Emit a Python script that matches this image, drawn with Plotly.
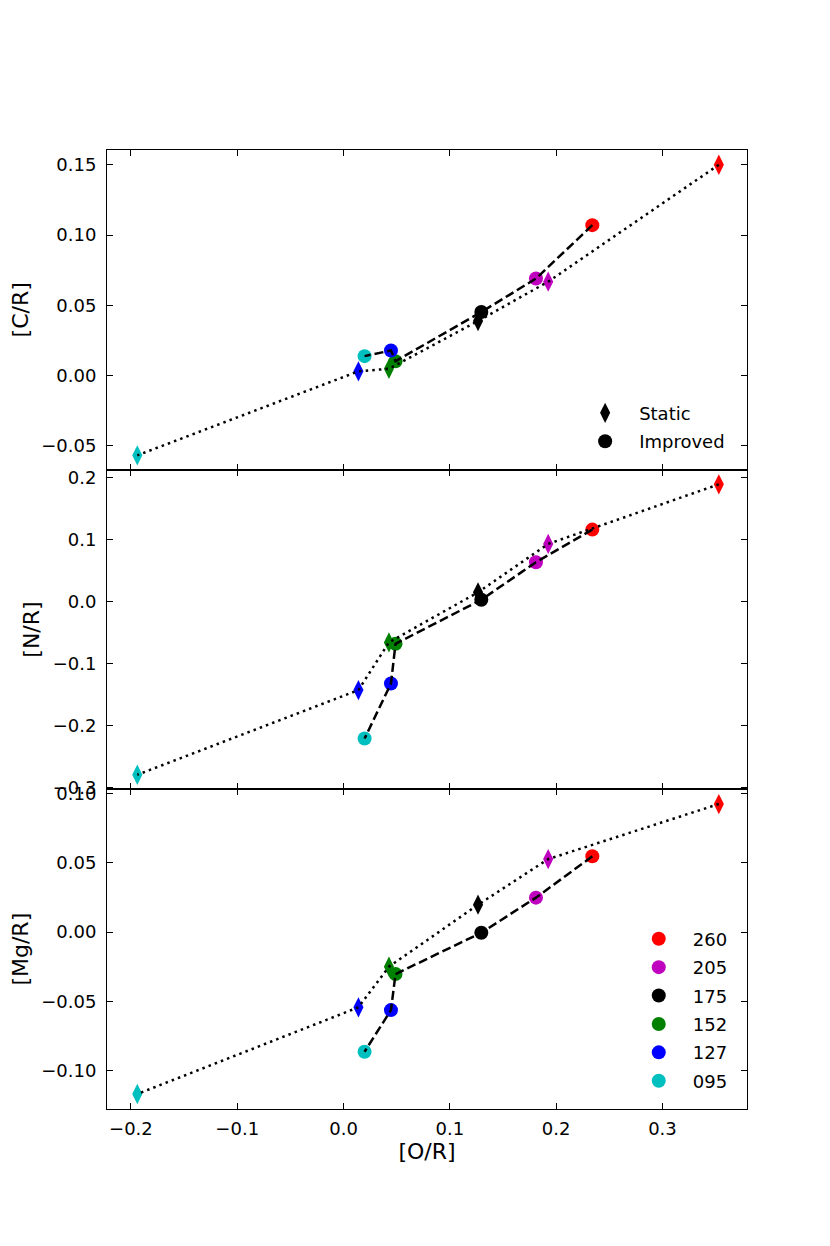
import plotly.graph_objects as go
from plotly.subplots import make_subplots

# samples (legend order) and their colours
samples = ["260", "205", "175", "152", "127", "095"]
colors = ["#FF0000", "#BF00BF", "#000000", "#008000", "#0000FF", "#00BFBF"]

# [O/R] for the static and the improved models
o_static = [0.353, 0.1925, 0.1265, 0.0427, 0.014, -0.194]
o_improved = [0.234, 0.181, 0.1296, 0.0489, 0.0446, 0.0198]

# [C/R]
c_static = [0.150, 0.0668, 0.0388, 0.0048, 0.003, -0.0568]
c_improved = [0.107, 0.069, 0.0452, 0.0102, 0.0178, 0.0138]

# [N/R]
n_static = [0.189, 0.093, 0.015, -0.0657, -0.1426, -0.279]
n_improved = [0.116, 0.0635, 0.003, -0.068, -0.132, -0.2207]

# [Mg/R]
mg_static = [0.0923, 0.0526, 0.0197, -0.025, -0.0543, -0.1168]
mg_improved = [0.0546, 0.0248, -0.0005, -0.0303, -0.0563, -0.0863]

panels = [
    ("[C/R]", c_static, c_improved, [-0.067, 0.1605], 0.05, ".2f"),
    ("[N/R]", n_static, n_improved, [-0.3025, 0.2126], 0.1, ".1f"),
    ("[Mg/R]", mg_static, mg_improved, [-0.1276, 0.1029], 0.05, ".2f"),
]

FONT = "DejaVu Sans"

fig = make_subplots(rows=3, cols=1, shared_xaxes=True, vertical_spacing=0)

for row, (label, ys, yi, yrange, dtick, fmt) in enumerate(panels, start=1):
    # markers first, lines drawn on top (like the original)
    for k in range(len(samples)):
        fig.add_trace(go.Scatter(
            x=[o_static[k]], y=[ys[k]], mode="markers",
            marker=dict(symbol="diamond-tall", size=14.5, color=colors[k]),
            showlegend=False, hoverinfo="skip"), row=row, col=1)
        fig.add_trace(go.Scatter(
            x=[o_improved[k]], y=[yi[k]], mode="markers",
            marker=dict(symbol="circle", size=14, color=colors[k]),
            showlegend=False, hoverinfo="skip"), row=row, col=1)
    fig.add_trace(go.Scatter(
        x=o_static, y=ys, mode="lines",
        line=dict(color="black", width=2.5, dash="2.5px,4.1px"),
        showlegend=False, hoverinfo="skip"), row=row, col=1)
    fig.add_trace(go.Scatter(
        x=o_improved, y=yi, mode="lines",
        line=dict(color="black", width=2.5, dash="9px,4px"),
        showlegend=False, hoverinfo="skip"), row=row, col=1)

    fig.update_yaxes(
        title=dict(text=label, font=dict(size=22), standoff=6),
        range=yrange, tick0=0, dtick=dtick, tickformat=fmt,
        row=row, col=1)

# legend 1: model type (panel 1)
fig.add_trace(go.Scatter(x=[None], y=[None], mode="markers", name="Static",
                         marker=dict(symbol="diamond-tall", size=14.5, color="black"),
                         legend="legend", legendgroup="s"), row=1, col=1)
fig.add_trace(go.Scatter(x=[None], y=[None], mode="markers", name="Improved",
                         marker=dict(symbol="circle", size=14, color="black"),
                         legend="legend", legendgroup="i"), row=1, col=1)

# legend 2: samples (panel 3)
for k, s in enumerate(samples):
    fig.add_trace(go.Scatter(x=[None], y=[None], mode="markers", name=s,
                             marker=dict(symbol="circle", size=14, color=colors[k]),
                             legend="legend2", legendgroup=s), row=3, col=1)

axis_style = dict(
    showline=True, linecolor="black", linewidth=1, mirror="ticks",
    ticks="inside", ticklen=6, tickwidth=1, tickcolor="black",
    showgrid=False, zeroline=False,
    tickfont=dict(size=18, color="black"),
)
fig.update_xaxes(**axis_style, range=[-0.2225, 0.3795], tick0=0, dtick=0.1,
                 tickformat=".1f", ticklabelstandoff=3)
fig.update_yaxes(**axis_style, ticklabelstandoff=6)
fig.update_xaxes(title=dict(text="[O/R]", font=dict(size=22), standoff=5),
                 row=3, col=1)

fig.update_layout(
    width=830, height=1246,
    margin=dict(l=95, r=91, t=142, b=145),
    plot_bgcolor="white", paper_bgcolor="white",
    font=dict(family=FONT, size=18, color="black"),
    legend=dict(x=0.7252, y=0.711, xanchor="left", yanchor="middle",
                bgcolor="rgba(0,0,0,0)", font=dict(size=18),
                tracegroupgap=2, itemwidth=58),
    legend2=dict(x=0.809, y=0.1032, xanchor="left", yanchor="middle",
                 bgcolor="rgba(0,0,0,0)", font=dict(size=18),
                 tracegroupgap=2, itemwidth=58),
)

fig.write_html("out.html")
